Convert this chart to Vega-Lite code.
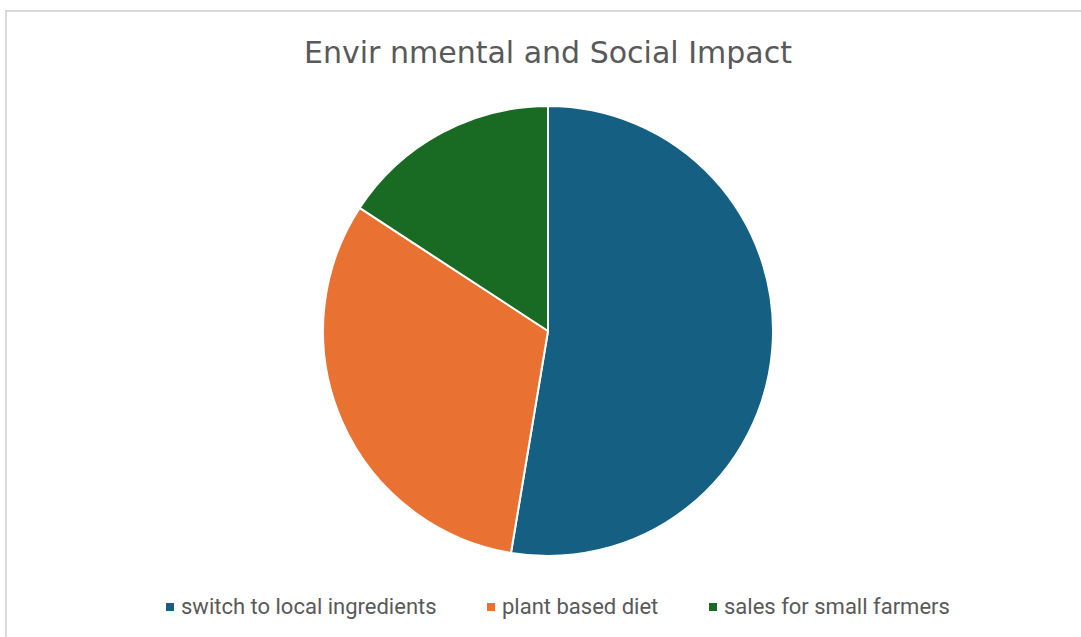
{
  "$schema": "https://vega.github.io/schema/vega-lite/v6.json",
  "autosize": {"type": "none"},
  "width": 1084,
  "height": 640,
  "padding": {"left": 6, "top": 11, "right": 0, "bottom": 0},
  "background": "white",
  "view": {"stroke": "#d9d9d9", "strokeWidth": 2},
  "title": {
    "text": "Envir nmental and Social Impact",
    "anchor": "middle",
    "frame": "group",
    "orient": "top",
    "offset": 0,
    "baseline": "alphabetic",
    "dy": 82,
    "font": "DejaVu Sans",
    "fontSize": 30,
    "fontWeight": "normal",
    "color": "#595959"
  },
  "data": {
    "values": [
      {"category": "switch to local ingredients", "value": 10, "idx": 1},
      {"category": "plant based diet", "value": 6, "idx": 2},
      {"category": "sales for small farmers", "value": 3, "idx": 3}
    ]
  },
  "mark": {"type": "arc", "radius": 225, "stroke": "white", "strokeWidth": 2},
  "encoding": {
    "theta": {"field": "value", "type": "quantitative", "stack": true},
    "order": {"field": "idx", "type": "quantitative"},
    "color": {
      "field": "category",
      "type": "nominal",
      "scale": {
        "domain": ["switch to local ingredients", "plant based diet", "sales for small farmers"],
        "range": ["#156082", "#E97132", "#196B24"]
      },
      "legend": {
        "title": null,
        "orient": "none",
        "direction": "horizontal",
        "legendX": 153,
        "legendY": 585,
        "symbolType": "square",
        "symbolSize": 64,
        "symbolStrokeWidth": 0,
        "labelFont": "Roboto",
        "labelFontSize": 22,
        "labelColor": "#595959",
        "labelOffset": 0,
        "columnPadding": 43,
        "labelLimit": 400
      }
    }
  }
}
